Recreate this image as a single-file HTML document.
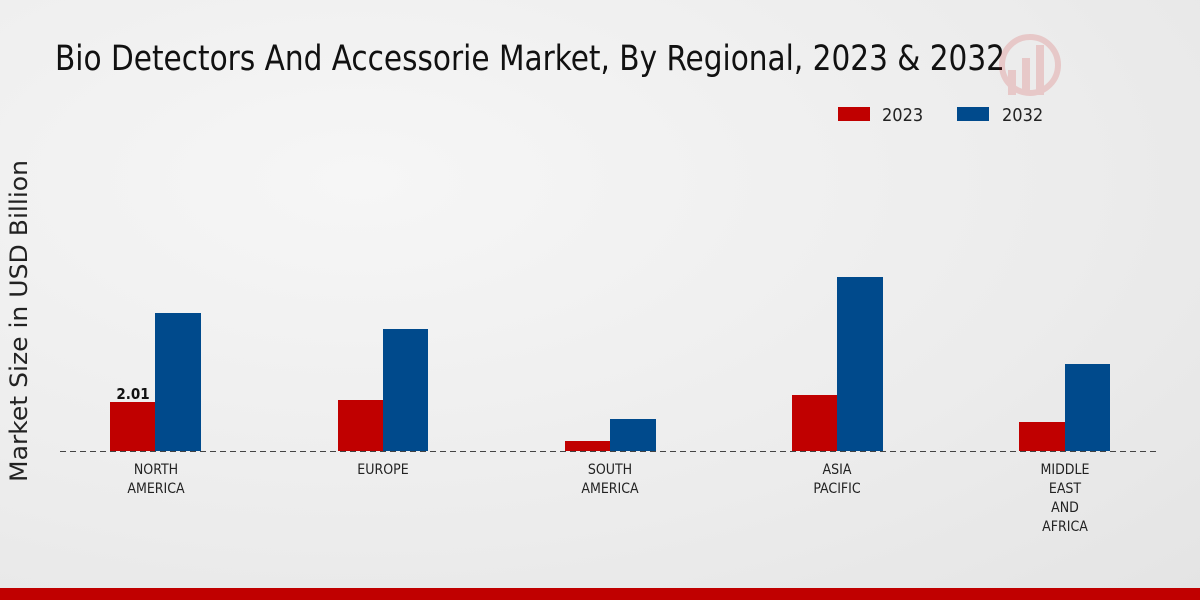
<!DOCTYPE html>
<html><head><meta charset="utf-8"><style>
body{margin:0;width:1200px;height:600px;overflow:hidden;background:radial-gradient(ellipse at 30% 30%,#f6f6f6 0%,#ececec 60%,#e4e4e4 100%);font-family:"DejaVu Sans Condensed","Liberation Sans Narrow","Liberation Sans",sans-serif;}
</style></head><body>
<svg width="1200" height="600" xmlns="http://www.w3.org/2000/svg" style="position:absolute;left:0;top:0">
<text x="55" y="70" font-size="35" fill="#111" font-family="DejaVu Sans Condensed, Liberation Sans Narrow, sans-serif" textLength="950" lengthAdjust="spacingAndGlyphs">Bio Detectors And Accessorie Market, By Regional, 2023 &amp; 2032</text>
<g opacity="0.15" fill="#c00">
<circle cx="1030" cy="65" r="28" fill="none" stroke="#c00" stroke-width="6"/>
<rect x="1008" y="70" width="8" height="25"/><rect x="1022" y="58" width="8" height="37"/><rect x="1036" y="45" width="8" height="50"/>
</g>
<rect x="838" y="107" width="32" height="14" fill="#c00000"/>
<text x="882" y="121" font-size="18" fill="#222">2023</text>
<rect x="957" y="107" width="32" height="14" fill="#004a8c"/>
<text x="1002" y="121" font-size="18" fill="#222">2032</text>
<text transform="translate(27,321) rotate(-90)" font-size="24" fill="#222" text-anchor="middle" font-family="DejaVu Sans, sans-serif" textLength="322" lengthAdjust="spacingAndGlyphs">Market Size in USD Billion</text>
<g fill="#c00000">
<rect x="110" y="402" width="45" height="49"/><rect x="338" y="400" width="45" height="51"/><rect x="565" y="441" width="45" height="10"/><rect x="792" y="395" width="45" height="56"/><rect x="1019" y="422" width="46" height="29"/>
</g>
<g fill="#004a8c">
<rect x="155" y="313" width="46" height="138"/><rect x="383" y="329" width="45" height="122"/><rect x="610" y="419" width="46" height="32"/><rect x="837" y="277" width="46" height="174"/><rect x="1065" y="364" width="45" height="87"/>
</g>
<line x1="60" y1="451.5" x2="1160" y2="451.5" stroke="#444" stroke-dasharray="6,4" stroke-width="1"/>
<text x="133" y="399" font-size="15" font-weight="bold" text-anchor="middle" fill="#111">2.01</text>
<g font-size="14" fill="#222" text-anchor="middle">
<text x="156" y="474">NORTH</text><text x="156" y="493">AMERICA</text>
<text x="383" y="474">EUROPE</text>
<text x="610" y="474">SOUTH</text><text x="610" y="493">AMERICA</text>
<text x="837" y="474">ASIA</text><text x="837" y="493">PACIFIC</text>
<text x="1065" y="474">MIDDLE</text><text x="1065" y="493">EAST</text><text x="1065" y="512">AND</text><text x="1065" y="531">AFRICA</text>
</g>
<rect x="0" y="588" width="1200" height="12" fill="#c00000"/>
</svg>
</body></html>
